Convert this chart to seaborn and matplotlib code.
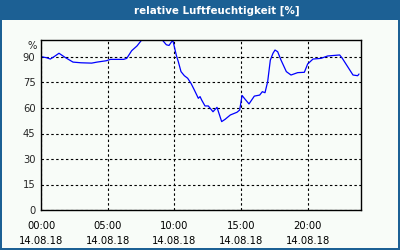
import matplotlib
matplotlib.use("Agg")
import matplotlib.pyplot as plt
import seaborn as sns
import pandas as pd
from matplotlib.patches import Rectangle
from matplotlib.ticker import MultipleLocator

sns.set_style("white")
plt.rcParams['font.family'] = ['DejaVu Sans']

title = "relative Luftfeuchtigkeit [%]"
hours = [0.0, 0.4, 0.7, 1.0, 1.35, 1.8, 2.4, 3.0, 3.4, 3.8, 4.2, 4.9, 5.2, 5.8, 6.2, 6.43,
         6.8, 7.2, 7.55, 8.0, 8.5, 9.1, 9.4, 9.6, 9.8, 9.9, 10.15, 10.3, 10.5, 10.75, 11.0,
         11.25, 11.5, 11.8, 11.93, 12.05, 12.3, 12.55, 12.9, 13.2, 13.55, 13.8, 14.2, 14.7,
         14.9, 15.08, 15.25, 15.6, 16.0, 16.4, 16.6, 16.8, 17.0, 17.2, 17.4, 17.55, 17.75,
         18.0, 18.4, 18.75, 19.25, 19.75, 20.0, 20.4, 21.0, 21.5, 22.4, 22.6, 23.0, 23.4,
         23.75, 23.85]
humidity = [90.2, 89.6, 88.8, 90.3, 92.2, 89.8, 87.0, 86.6, 86.5, 86.4, 87.0, 87.8, 88.6,
            88.6, 88.6, 89.2, 93.7, 96.5, 100.0, 103.0, 103.0, 100.0, 97.2, 96.8, 99.0,
            99.4, 91.0, 87.2, 81.4, 79.0, 77.5, 74.5, 70.6, 65.7, 66.7, 64.7, 61.2, 61.2,
            57.8, 60.4, 52.0, 53.3, 55.9, 57.5, 58.8, 67.4, 65.7, 62.4, 67.0, 67.6, 69.6,
            69.0, 75.5, 88.2, 92.2, 94.1, 93.1, 88.2, 81.4, 79.4, 80.8, 81.0, 85.9, 88.8,
            89.2, 90.6, 91.2, 89.2, 84.3, 79.4, 79.0, 80.0]
xticks = [0, 5, 10, 15, 20]
xlabels = ["00:00\n14.08.18", "05:00\n14.08.18", "10:00\n14.08.18",
           "15:00\n14.08.18", "20:00\n14.08.18"]
yticks = [0, 15, 30, 45, 60, 75, 90]

df = pd.DataFrame({"h": hours, "v": humidity})

bg = "#f8fcf8"
blue = "#1c6094"
fig = plt.figure(figsize=(4, 2.5), dpi=100, facecolor=bg)
# title bar and border
fig.patches.append(Rectangle((0, 1 - 20/250), 1, 20/250, transform=fig.transFigure,
                             facecolor=blue, edgecolor="none", zorder=0))
for (x0, y0, w, h) in [(0, 0, 2/400, 1), (1 - 2/400, 0, 2/400, 1), (0, 0, 1, 2/250)]:
    fig.patches.append(Rectangle((x0, y0), w, h, transform=fig.transFigure,
                                 facecolor=blue, edgecolor="none", zorder=0))
fig.text(217/400, 1 - 10.5/250, title, color="white", fontweight="bold",
         fontsize=7.4, ha="center", va="center")

ax = fig.add_axes([41/400, 1 - 210/250, 320/400, 170/250])
ax.set_facecolor(bg)
sns.lineplot(data=df, x="h", y="v", ax=ax, color="#0000ff", linewidth=0.9)
ax.set_xlim(0, 24)
ax.set_ylim(0, 100)
ax.set_xticks(xticks)
ax.set_xticklabels(xlabels, linespacing=1.6)
ax.set_yticks(yticks)
ax.xaxis.set_minor_locator(MultipleLocator(1))
ax.tick_params(axis="x", which="both", direction="in", length=3, width=0.8,
               colors="black", labelsize=7.2, pad=8, top=False)
ax.tick_params(axis="x", which="major", length=0)
ax.tick_params(axis="y", which="both", length=0, labelsize=7.2, pad=4)
ax.set_xlabel("")
ax.set_ylabel("")
ax.text(-0.012, 96.5, "%", transform=ax.get_yaxis_transform(), ha="right",
        va="center", fontsize=7.2)
ax.grid(True, which="major", color="black", linestyle=(0, (2.2, 2.2)), linewidth=0.8)
for s in ax.spines.values():
    s.set_visible(True)
    s.set_color("black")
    s.set_linewidth(1.0)

fig.savefig("out.png", dpi=100, facecolor=bg)
